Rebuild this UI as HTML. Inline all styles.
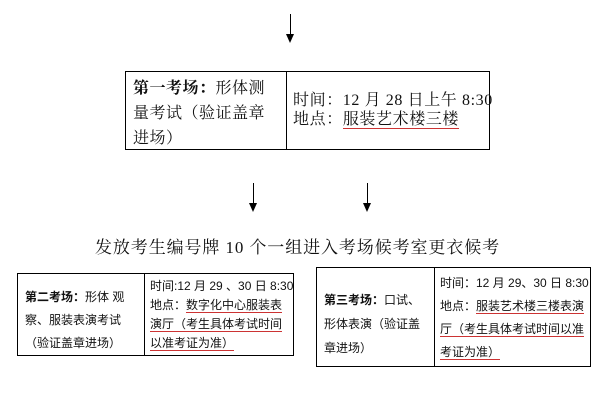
<!DOCTYPE html>
<html><head><meta charset="utf-8"><style>
body{margin:0;width:610px;height:405px;background:#fff;position:relative;overflow:hidden;font-family:"Liberation Serif","Noto Serif CJK SC","Noto Sans CJK SC",serif;color:#111}
.a{position:absolute;width:1px;background:#000}
.h{position:absolute;width:0;height:0;border-left:4px solid transparent;border-right:4px solid transparent;border-top:9px solid #000}
.box{position:absolute;border:1px solid #000;box-sizing:border-box}
.div{position:absolute;top:0;bottom:0;width:1px;background:#000}
.t{position:absolute;white-space:nowrap}
u{text-decoration:none;border-bottom:1px solid #c33}
.s{font-family:"Liberation Sans","Noto Sans CJK SC",sans-serif;font-size:12px}
</style></head><body>
<div class="a" style="left:290px;top:14px;height:22px"></div><div class="h" style="left:286px;top:34px"></div>
<div class="a" style="left:253px;top:183px;height:21px"></div><div class="h" style="left:249px;top:203px"></div>
<div class="a" style="left:367px;top:183px;height:21px"></div><div class="h" style="left:363px;top:203px"></div>

<div class="box" style="left:125px;top:71px;width:365px;height:79px">
<div class="div" style="left:160px"></div>
<div class="t" style="left:7px;top:4px;font-size:16px;line-height:25px;letter-spacing:0.5px">
<b>第一考场：</b>形体测<br>量考试（验证盖章<br>进场）</div>
<div class="t" style="left:167px;top:19px;font-size:16px;line-height:19px;letter-spacing:0.6px">时间：12 月 28 日上午 8:30<br>地点：<u>服装艺术楼三楼</u></div>
</div>

<div class="t" style="left:95px;top:233px;font-size:17px;letter-spacing:0.9px">发放考生编号牌 10 个一组进入考场候考室更衣候考</div>

<div class="box s" style="left:17px;top:273px;width:277px;height:83px">
<div class="div" style="left:126px"></div>
<div class="t" style="left:7px;top:12px;line-height:23px"><b>第二考场：</b>形体 观<br>察、服装表演考试<br>（验证盖章进场）</div>
<div class="t" style="left:132px;top:3px;line-height:19px">时间:12 月 29 、30 日 8:30<br>地点：<u>数字化中心服装表</u><br><u>演厅（考生具体考试时间</u><br><u>以准考证为准）</u></div>
</div>

<div class="box s" style="left:316px;top:267px;width:275px;height:100px">
<div class="div" style="left:117px"></div>
<div class="t" style="left:7px;top:20px;line-height:24px"><b>第三考场：</b>口试、<br>形体表演（验证盖<br>章进场）</div>
<div class="t" style="left:123px;top:4px;line-height:23px">时间：12 月 29、30 日 8:30<br>地点：<u>服装艺术楼三楼表演</u><br><u>厅（考生具体考试时间以准</u><br><u>考证为准）</u></div>
</div>
</body></html>
